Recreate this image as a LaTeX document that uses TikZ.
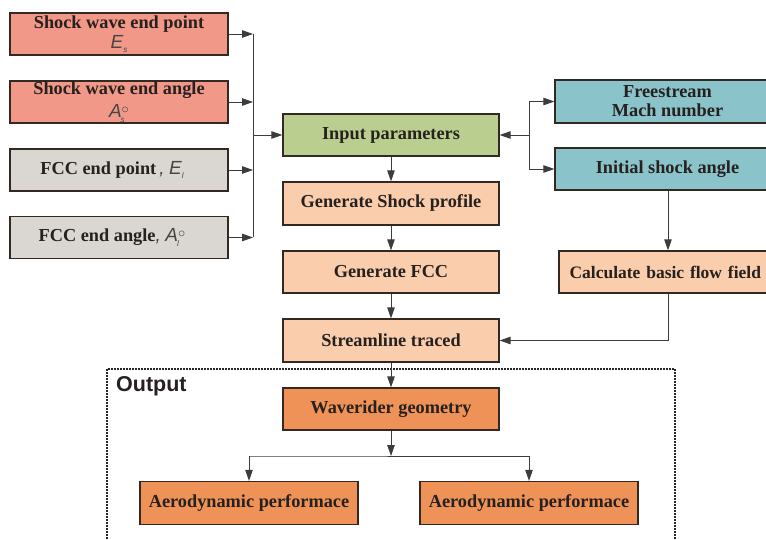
\documentclass[tikz,border=0pt]{standalone}
\usepackage{fontspec}
\setmainfont{Liberation Serif}
\newfontfamily\labelsans{Liberation Sans}
\usetikzlibrary{arrows.meta}
\definecolor{salmon}{RGB}{241,152,136}
\definecolor{greybox}{RGB}{218,214,209}
\definecolor{greenbox}{RGB}{186,207,143}
\definecolor{tealbox}{RGB}{138,195,202}
\definecolor{peach}{RGB}{250,205,172}
\definecolor{orangebox}{RGB}{239,146,88}
\definecolor{edgecol}{RGB}{52,40,34}
\definecolor{linecol}{RGB}{60,60,60}
\definecolor{txt}{RGB}{38,32,30}
\definecolor{symcol}{RGB}{70,70,70}
\tikzset{
  box/.style={draw=edgecol, line width=1.3pt, rectangle, inner sep=0pt,
    align=center, text=txt, font=\fontsize{18.3}{20}\selectfont\bfseries},
  conn/.style={draw=linecol, line width=0.9pt},
  arr/.style={conn, -{Triangle[length=11pt,width=7.5pt]}}
}
% italic sans symbols with a subscript (and a degree mark stacked over it for angles)
\newcommand{\symE}[1]{{\labelsans\mdseries\itshape\fontsize{19}{19}\selectfont\color{symcol}E\raisebox{-0.45ex}{\fontsize{8}{8}\selectfont #1}}}
\newcommand{\symA}[1]{{\labelsans\mdseries\itshape\fontsize{19}{19}\selectfont\color{symcol}A\rlap{\kern-1pt\raisebox{-0.45ex}{\fontsize{8}{8}\selectfont #1}}\raisebox{0.4ex}{\upshape\fontsize{14}{14}\selectfont$\circ$}}}
\newcommand{\symsep}{{\labelsans\mdseries\itshape\fontsize{19}{19}\selectfont\color{symcol},}}
\begin{document}
\begin{tikzpicture}[x=1pt,y=-1pt]
\useasboundingbox (0,0) rectangle (766,540);
\begin{scope}
\clip (0,0) rectangle (766,540);
% parameter boxes on the left
\node[box, fill=salmon, minimum width=218pt, minimum height=42pt] (swp) at (119,34)
  {Shock wave end point\\[0pt]\symE{s}};
\node[box, fill=salmon, minimum width=218pt, minimum height=42pt] (swa) at (119,102)
  {Shock wave end angle\\[3pt]\symA{s}};
\node[box, fill=greybox, minimum width=218pt, minimum height=42pt] (fcp) at (119,170)
  {FCC end point\,\symsep\ \symE{l}\hspace*{14pt}};
\node[box, fill=greybox, minimum width=218pt, minimum height=42pt] (fca) at (119,237.5)
  {FCC end angle\symsep\ \symA{l}\hspace*{14pt}};

% main column
\node[box, fill=greenbox, minimum width=216pt, minimum height=42pt] (inp) at (391,135) {Input parameters};
\node[box, fill=peach, minimum width=216pt, minimum height=43pt] (gsp) at (391,203.5) {Generate Shock profile};
\node[box, fill=peach, minimum width=216pt, minimum height=42pt] (gfc) at (391,272) {Generate FCC};
\node[box, fill=peach, minimum width=216pt, minimum height=43pt] (slt) at (391,340.5) {Streamline traced};
\node[box, fill=orangebox, minimum width=216pt, minimum height=42pt] (wrg) at (391,409) {Waverider geometry};
\node[box, fill=orangebox, minimum width=218pt, minimum height=43pt] (ap1) at (249,503) {Aerodynamic performace};
\node[box, fill=orangebox, minimum width=218pt, minimum height=43pt] (ap2) at (529,503) {Aerodynamic performace};

% flow-condition boxes on the right
\node[box, fill=tealbox, minimum width=225pt, minimum height=43pt, font=\fontsize{18.3}{19}\selectfont\bfseries] (fsm) at (667.5,101.5) {Freestream\\Mach number};
\node[box, fill=tealbox, minimum width=225pt, minimum height=42pt] (isa) at (667.5,169) {Initial shock angle};
\node[box, fill=peach, minimum width=221pt, minimum height=42pt, text width=216pt, align=left, font=\fontsize{17.5}{19}\selectfont\bfseries] (cbf) at (669.5,272) {\hspace*{8pt}Calculate basic flow field};

% output frame
\draw[line width=1.5pt, draw=black!85, dash pattern=on 1.6pt off 1.4pt] (107,369) rectangle (675,560);
\node[anchor=north west, inner sep=0pt, font=\labelsans\bfseries\fontsize{21.5}{22}\selectfont, text=txt] (outl) at (116,376) {Output};

% collecting the left parameters
\coordinate (jx) at (253,135);
\foreach \b in {swp,swa,fcp,fca} \draw[arr] (\b.east) -- (\b.east -| jx);
\draw[conn] (swp.east -| jx) -- (fca.east -| jx);
\draw[arr] (jx) -- (inp.west);

% flow conditions to and from the input block
\coordinate (jr) at (529,135);
\draw[arr] (jr) -- (inp.east);
\draw[conn] (jr |- fsm.west) -- (jr |- isa.west);
\draw[arr] (jr |- fsm.west) -- (fsm.west);
\draw[arr] (jr |- isa.west) -- (isa.west);

% main chain
\draw[arr] (inp) -- (gsp);
\draw[arr] (gsp) -- (gfc);
\draw[arr] (gfc) -- (slt);
\draw[arr] (slt) -- (wrg);
\coordinate (cx) at (668,0);
\draw[arr] (cx |- isa.south) -- (cx |- cbf.north);
\draw[arr] (cx |- cbf.south) |- (slt.east);

% branch to the two performance blocks
\coordinate (br) at (391,456);
\draw[arr] (wrg) -- (br);
\draw[conn] (br) -- (ap1.north |- br) -- (ap2.north |- br);
\draw[arr] (ap1.north |- br) -- (ap1.north);
\draw[arr] (ap2.north |- br) -- (ap2.north);
\end{scope}
\end{tikzpicture}
\end{document}
